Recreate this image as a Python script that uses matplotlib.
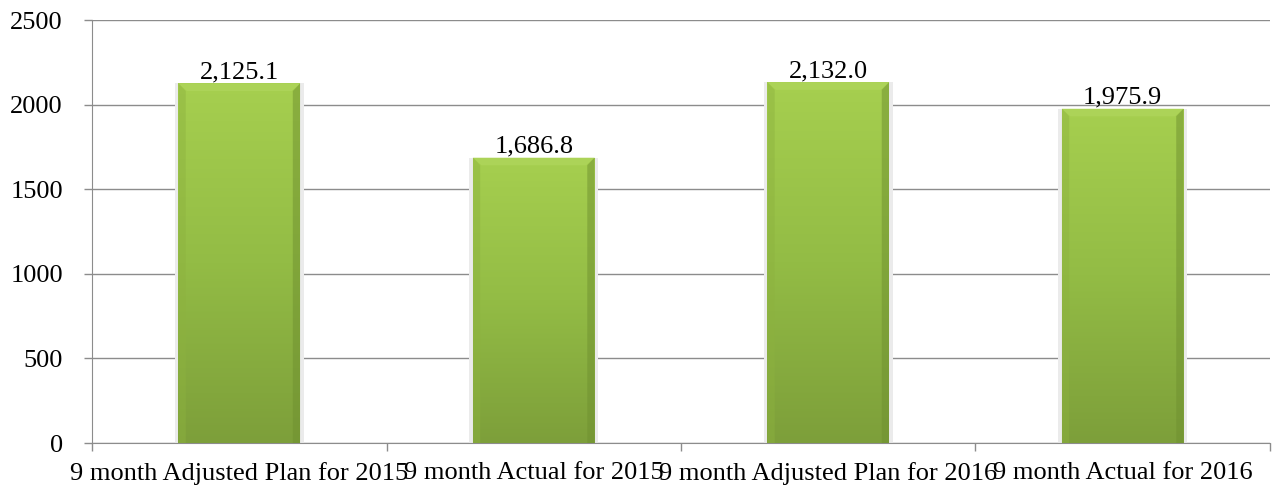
import numpy as np
import matplotlib.pyplot as plt
from matplotlib.colors import LinearSegmentedColormap

categories = ['9 month Adjusted Plan for 2015', '9 month Actual for 2015',
              '9 month Adjusted Plan for 2016', '9 month Actual for 2016']
values = [2125.1, 1686.8, 2132.0, 1975.9]
yticks = [0, 500, 1000, 1500, 2000, 2500]

plt.rcParams['font.family'] = ['Liberation Serif', 'DejaVu Serif']
FS = 19

fig = plt.figure(figsize=(12.73, 4.94), dpi=100)
ax = fig.add_axes([0.0723, 0.1032, 0.9253, 0.8563])

x = np.arange(len(categories))
width = 0.413

# soft grey halo behind each bar
ax.bar(x, values, width=width + 0.025, color='#ebebeb', zorder=1)
bars = ax.bar(x, values, width=width, color='#9bc444', edgecolor='none', zorder=2)

# vertical green gradient with a bevelled rim
grad_cmap = LinearSegmentedColormap.from_list('bar', ['#7d9f3a', '#93bc45', '#a6cf4f'])
for b in bars:
    x0, y0 = b.get_x(), b.get_y()
    w, h = b.get_width(), b.get_height()
    g = np.repeat(np.linspace(0, 1, 200).reshape(-1, 1), 20, axis=1)
    im = ax.imshow(g, cmap=grad_cmap, origin='lower', aspect='auto',
                   extent=[x0, x0 + w, y0, y0 + h], zorder=3)
    im.set_clip_path(b)
    # top bevel
    ax.fill([x0, x0 + w, x0 + w * 0.93, x0 + w * 0.07],
            [y0 + h, y0 + h, y0 + h - 45, y0 + h - 45],
            color='#b0d65d', alpha=0.7, zorder=4, lw=0)
    # side edges
    ax.fill([x0, x0 + w * 0.06, x0 + w * 0.06, x0],
            [y0, y0, y0 + h - 45, y0 + h],
            color='#8db23f', alpha=0.45, zorder=4, lw=0)
    ax.fill([x0 + w, x0 + w * 0.94, x0 + w * 0.94, x0 + w],
            [y0, y0, y0 + h - 45, y0 + h],
            color='#6f9030', alpha=0.5, zorder=4, lw=0)

for xi, v in zip(x, values):
    ax.text(xi, v + 28, f'{v:,.1f}', ha='center', va='baseline', fontsize=FS, zorder=5)

ax.set_xlim(-0.5, len(categories) - 0.5)
ax.set_ylim(0, 2500)
ax.set_yticks(yticks)
ax.set_yticklabels([str(t) for t in yticks], fontsize=FS)
ax.yaxis.grid(True, color='#8c8c8c', lw=1)
ax.set_axisbelow(True)

# category labels centred, tick marks on the boundaries
ax.set_xticks(x)
ax.set_xticklabels(categories, fontsize=FS)
ax.tick_params(axis='x', length=0, pad=14)
ax.set_xticks(np.arange(len(categories) + 1) - 0.5, minor=True)
ax.tick_params(axis='x', which='minor', length=6, color='#8c8c8c', width=1)
ax.tick_params(axis='y', length=6, color='#8c8c8c', width=1, pad=15)

for s in ['top', 'right']:
    ax.spines[s].set_visible(False)
for s in ['left', 'bottom']:
    ax.spines[s].set_color('#8c8c8c')

fig.savefig('out.png', dpi=100)
